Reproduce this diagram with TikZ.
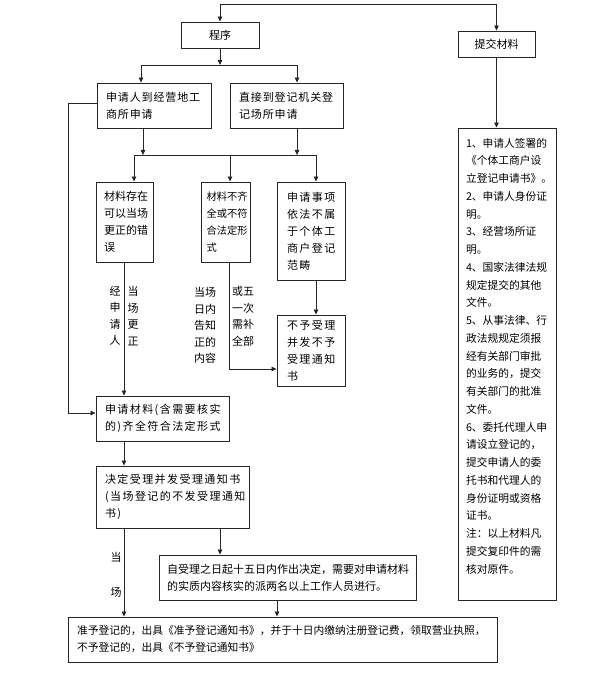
\documentclass[tikz,border=0pt]{standalone}
\usepackage{fontspec}
\setmainfont{Noto Sans CJK SC}
\newfontfamily\widefont[LetterSpace=13]{Noto Sans CJK SC}
\newfontfamily\midfont[LetterSpace=8]{Noto Sans CJK SC}
\usetikzlibrary{arrows.meta}
\begin{document}
\begin{tikzpicture}[x=1pt,y=-1pt,
  box/.style={draw=black!85, line width=0.9pt, inner ysep=0pt, inner xsep=9pt, align=left, font=\fontsize{11}{17}\selectfont},
  lbl/.style={align=center, inner sep=0pt, font=\fontsize{11}{16.5}\selectfont},
  arr/.style={-{Triangle[length=5pt,width=4.5pt]}},
  ln/.style={draw=black!85, line width=0.8pt}]
\useasboundingbox (0,0) rectangle (609,679);

% boxes
\node[box, align=center, text width=60pt, minimum height=26pt] (prog) at (220,35) {程序};
\node[box, align=center, text width=59pt, minimum height=26pt] (tijiao) at (496.5,44) {提交材料};
\node[box, text width=96pt, minimum height=45pt] (a1) at (154,105.5) {\midfont 申请人到经营地工\\商所申请};
\node[box, text width=95pt, minimum height=45pt] (a2) at (286.5,105.5) {\midfont 直接到登记机关登\\记场所申请};
\node[box, inner xsep=8pt, text width=41pt, minimum height=80pt] (b1) at (124.5,222) {材料存在\\可以当场\\更正的错\\误};
\node[box, inner xsep=5.5pt, text width=38pt, minimum height=80pt, font=\fontsize{10.25}{17}\selectfont] (b2) at (225.5,222) {材料不齐\\全或不符\\合法定形\\式};
\node[box, inner xsep=10pt, text width=48pt, minimum height=98pt] (b3) at (311,231) {\widefont 申请事项\\依法不属\\于个体工\\商户登记\\范畴};
\node[box, inner xsep=10pt, text width=48pt, minimum height=71pt] (c) at (311,350.5) {\widefont 不予受理\\并发不予\\受理通知\\书};
\node[box, text width=115pt, minimum height=45pt] (d) at (162.5,418.5) {\widefont 申请材料(含需要核实\\的)齐全符合法定形式};
\node[box, text width=135pt, minimum height=62pt] (e) at (172.5,497) {\widefont 决定受理并发受理通知书\\(当场登记的不发受理通知\\书)};
\node[box, inner xsep=8pt, text width=241pt, minimum height=45pt] (f) at (287.5,577.5) {自受理之日起十五日内作出决定，需要对申请材料\\的实质内容核实的派两名以上工作人员进行。};
\node[box, text width=411pt, minimum height=45pt, font=\fontsize{10.75}{17}\selectfont] (g) at (282.5,639.5) {准予登记的，出具《准予登记通知书》，并于十日内缴纳注册登记费，领取营业执照，\\不予登记的，出具《不予登记通知书》};
\node[box, minimum width=98pt, minimum height=472pt] (m) at (507,364) {};
\node[align=left, inner sep=0pt, text width=84pt, font=\fontsize{10.75}{17.75}\selectfont] (mt) at (508,356) {1、申请人签署的\\《个体工商户设\\立登记申请书》。\\2、申请人身份证\\明。\\3、经营场所证\\明。\\4、国家法律法规\\规定提交的其他\\文件。\\5、从事法律、行\\政法规规定须报\\经有关部门审批\\的业务的，提交\\有关部门的批准\\文件。\\6、委托代理人申\\请设立登记的，\\提交申请人的委\\托书和代理人的\\身份证明或资格\\证书。\\注：以上材料凡\\提交复印件的需\\核对原件。};

% labels
\node[lbl] (l1) at (115,316) {经\\申\\请\\人};
\node[lbl] (l2) at (133,316) {当\\场\\更\\正};
\node[lbl] (l3) at (205,325.5) {当场\\日内\\告知\\正的\\内容};
\node[lbl] (l4) at (243,316.5) {或五\\一次\\需补\\全部};
\node[lbl] (l5) at (116,557) {当};
\node[lbl] (l6) at (116,592) {场};

% connectors
\coordinate (t1) at (220,4);
\draw[ln, arr] (t1) -- (prog.north);
\draw[ln, arr] (t1) -| (tijiao.north);
\coordinate (j1) at (220,65);
\coordinate (j1a) at (141,65);
\coordinate (j1b) at (297,65);
\draw[ln, arr] (prog.south) -- (j1);
\draw[ln] (j1a) -- (j1b);
\draw[ln, arr] (j1a) -- (j1a |- a1.north);
\draw[ln, arr] (j1b) -- (j1b |- a2.north);
\draw[ln, arr] (tijiao.south) -- (tijiao.south |- m.north);

\coordinate (L1) at (68,103);
\coordinate (L2) at (68,413);
\draw[ln, arr] (a1.west |- L1) -- (L1) -- (L2) -- (L2 -| d.west);

\coordinate (j2a) at (143,155);
\coordinate (j2b) at (297,155);
\coordinate (j2l) at (134,155);
\coordinate (j2m) at (230,155);
\coordinate (j2r) at (316,155);
\draw[ln, arr] (a1.south -| j2a) -- (j2a);
\draw[ln, arr] (a2.south -| j2b) -- (j2b);
\draw[ln] (j2l) -- (j2r);
\draw[ln, arr] (j2l) -- (j2l |- b1.north);
\draw[ln, arr] (j2m) -- (j2m |- b2.north);
\draw[ln, arr] (j2r) -- (j2r |- b3.north);

\coordinate (xl) at (124,0);
\coordinate (k) at (229,369);
\coordinate (xf) at (220,0);
\coordinate (xg) at (277,0);
\draw[ln, arr] (b1.south -| xl) -- (d.north -| xl);
\draw[ln, arr] (b2.south -| k) -- (k) -- (k -| c.west);
\draw[ln, arr] (b3.south -| j2r) -- (c.north -| j2r);
\draw[ln, arr] (d.south -| xl) -- (e.north -| xl);
\draw[ln, arr] (e.south -| xl) -- (g.north -| xl);
\draw[ln, arr] (e.south -| xf) -- (f.north -| xf);
\draw[ln, arr] (f.south -| xg) -- (g.north -| xg);
\end{tikzpicture}
\end{document}
